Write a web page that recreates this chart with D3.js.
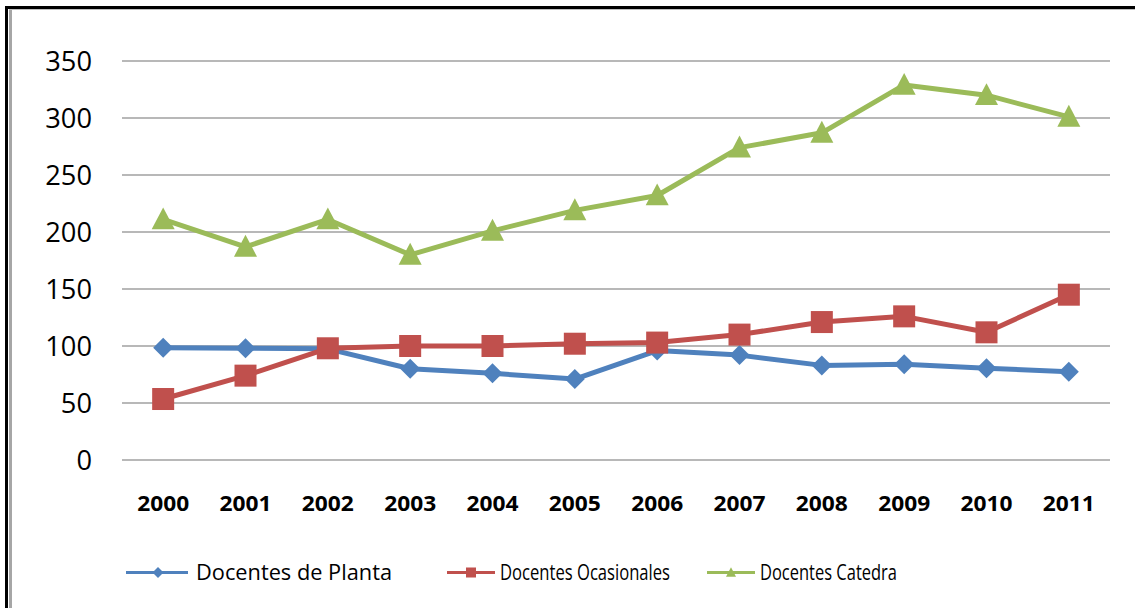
<!DOCTYPE html>
<html>
<head>
<meta charset="utf-8">
<script src="https://cdn.jsdelivr.net/npm/d3@7"></script>
<style>
  html, body { margin: 0; padding: 0; background: #fff; }
  svg { display: block; }
</style>
</head>
<body>
<svg id="chart" width="1135" height="608"></svg>
<script>
const years = ["2000","2001","2002","2003","2004","2005","2006","2007","2008","2009","2010","2011"];
const planta = [98.5, 98, 97.5, 80, 76, 71, 96, 92, 83, 84, 80.5, 77.5];
const ocasionales = [53.5, 74, 98, 100, 100, 102, 103, 110, 121, 126, 112, 145];
const catedra = [211, 187, 211, 180, 201, 219, 232, 274, 287, 329, 320, 301];
const yTicks = [0, 50, 100, 150, 200, 250, 300, 350];
const seriesNames = ["Docentes de Planta", "Docentes Ocasionales", "Docentes Catedra"];

const series = [
  { name: seriesNames[0], values: planta, color: "#4f81bd", symbol: d3.symbolDiamond2 || d3.symbolDiamond, kind: "diamond" },
  { name: seriesNames[1], values: ocasionales, color: "#c0504d", kind: "square" },
  { name: seriesNames[2], values: catedra, color: "#9bbb59", kind: "triangle" }
];

const svg = d3.select("#chart");
const font = "'Open Sans', 'Liberation Sans', sans-serif";

// frame
svg.append("rect").attr("x", 6.5).attr("y", 7.5).attr("width", 1200).attr("height", 700)
  .attr("fill", "none").attr("stroke", "#000").attr("stroke-width", 3);
svg.append("line").attr("x1", 10.5).attr("x2", 10.5).attr("y1", 9).attr("y2", 608)
  .attr("stroke", "#a6a6a6").attr("stroke-width", 3);
svg.append("line").attr("x1", 9).attr("x2", 1135).attr("y1", 9.5).attr("y2", 9.5)
  .attr("stroke", "#bfbfbf").attr("stroke-width", 1);

const x = d3.scaleBand().domain(years).range([122, 1110]);
const y = d3.scaleLinear().domain([0, 350]).range([460, 61]);

// gridlines
svg.append("g").selectAll("line").data(yTicks).join("line")
  .attr("x1", 122).attr("x2", 1110)
  .attr("y1", d => y(d)).attr("y2", d => y(d))
  .attr("stroke", "#a0a0a0").attr("stroke-width", 1.6);

// y axis labels
const yAxis = d3.axisLeft(y).tickValues(yTicks).tickSize(0).tickPadding(0);
const gy = svg.append("g").attr("transform", "translate(92,0)").call(yAxis);
gy.select(".domain").remove();
gy.selectAll("text")
  .attr("font-family", font).attr("font-size", 27).attr("fill", "#000")
  .attr("dy", "0.36em").attr("x", 0)
  .attr("textLength", d => String(d).length * 15.6).attr("lengthAdjust", "spacingAndGlyphs");

// x axis labels
const xAxis = d3.axisBottom(x).tickSize(0).tickPadding(0);
const gx = svg.append("g").attr("transform", "translate(0,503)").call(xAxis);
gx.select(".domain").remove();
gx.selectAll("text")
  .attr("font-family", font).attr("font-size", 21.5).attr("font-weight", "bold").attr("fill", "#000")
  .attr("dy", "0.36em").attr("y", 0)
  .attr("textLength", 52).attr("lengthAdjust", "spacingAndGlyphs");

const cx = d => x(d) + x.bandwidth() / 2;

function marker(g, kind, size, color) {
  if (kind === "diamond") {
    const h = size / 2;
    g.append("path").attr("d", `M0,${-h}L${h},0L0,${h}L${-h},0Z`).attr("fill", color);
  } else if (kind === "square") {
    g.append("rect").attr("x", -size / 2).attr("y", -size / 2).attr("width", size).attr("height", size).attr("fill", color);
  } else {
    const w = size, hgt = size * 0.95;
    g.append("path").attr("d", `M0,${-hgt * 0.55}L${w / 2},${hgt * 0.45}L${-w / 2},${hgt * 0.45}Z`).attr("fill", color);
  }
}

const line = d3.line().x((d, i) => cx(years[i])).y(d => y(d));
const sizes = { diamond: 20, square: 22, triangle: 23 };

series.forEach(s => {
  const g = svg.append("g");
  g.append("path").datum(s.values).attr("d", line)
    .attr("fill", "none").attr("stroke", s.color).attr("stroke-width", 5)
    .attr("stroke-linejoin", "round");
  s.values.forEach((v, i) => {
    const mg = g.append("g").attr("transform", `translate(${cx(years[i])},${y(v)})`);
    marker(mg, s.kind, sizes[s.kind], s.color);
  });
});

// legend
const legendX = [126, 447, 707];
const legendW = [196, 170, 137];
const legend = svg.append("g");
series.forEach((s, i) => {
  const g = legend.append("g").attr("transform", `translate(${legendX[i]},572.5)`);
  g.append("line").attr("x1", 0).attr("x2", i === 0 ? 62 : 48).attr("y1", 0).attr("y2", 0)
    .attr("stroke", s.color).attr("stroke-width", 3);
  const mx = i === 0 ? 32 : 24;
  const mg = g.append("g").attr("transform", `translate(${mx},0)`);
  marker(mg, s.kind, s.kind === "diamond" ? 11 : 10, s.color);
  g.append("text").attr("x", i === 0 ? 70 : 53).attr("y", 0).attr("dy", "0.36em")
    .attr("font-family", font).attr("font-size", 21).attr("fill", "#000")
    .attr("textLength", legendW[i]).attr("lengthAdjust", "spacingAndGlyphs")
    .text(s.name);
});
</script>
</body>
</html>
